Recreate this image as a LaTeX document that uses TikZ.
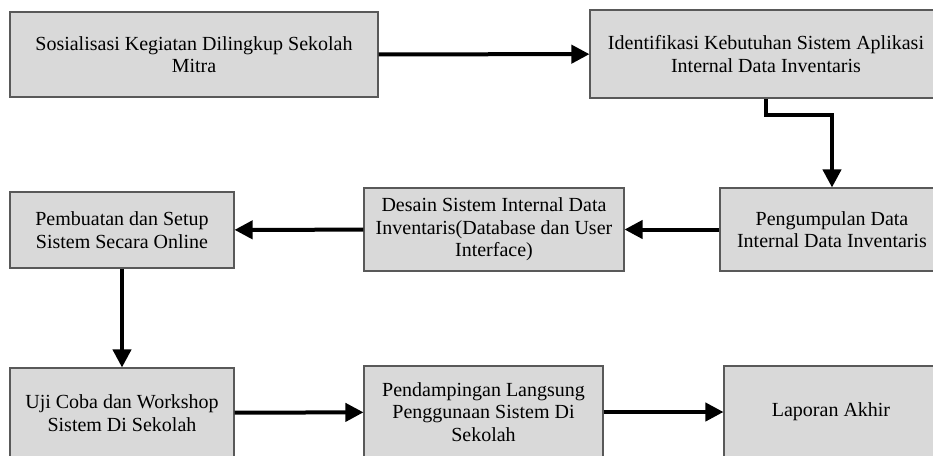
\documentclass[tikz,border=0pt]{standalone}
\usepackage{fontspec}
\setmainfont{Liberation Serif}
\usetikzlibrary{arrows.meta}
\tikzset{%
  kotak/.style = {shape=rectangle, draw=black!65, line width=0.8pt,%
                  fill=black!15, align=center, inner sep=0pt,%
                  font=\fontsize{15}{17}\selectfont},%
  panah/.style = {line width=3pt, -{Triangle[length=13.5pt,width=13.5pt]}}%
}
\begin{document}
\begin{tikzpicture}[x=0.75pt,y=-0.75pt]
		\useasboundingbox (0,0) rectangle (933,455);
		% baris atas
		\node [kotak, minimum width=276pt, minimum height=63.75pt] (sos) at (194,54.5)
			{Sosialisasi Kegiatan Dilingkup Sekolah\\Mitra};
		\node [kotak, minimum width=264pt, minimum height=66pt] (idn) at (766,54)
			{Identifikasi Kebutuhan Sistem Aplikasi\\Internal Data Inventaris};
		% baris tengah
		\node [kotak, minimum width=168pt, minimum height=62.25pt] (kum) at (832,229.5)
			{Pengumpulan Data\\Internal Data Inventaris};
		\node [kotak, minimum width=195pt, minimum height=62.25pt] (des) at (494,229.5)
			{Desain Sistem Internal Data\\Inventaris(Database dan User\\Interface)};
		\node [kotak, minimum width=168pt, minimum height=57pt] (buat) at (122,230)
			{Pembuatan dan Setup\\Sistem Secara Online};
		% baris bawah
		\node [kotak, minimum width=168pt, minimum height=67.5pt] (uji) at (122,413)
			{Uji Coba dan Workshop\\Sistem Di Sekolah};
		\node [kotak, minimum width=179.25pt, minimum height=69pt] (damp) at (483.5,412)
			{Pendampingan Langsung\\Penggunaan Sistem Di\\Sekolah};
		\node [kotak, minimum width=160.5pt, minimum height=69pt] (lap) at (831,412)
			{Laporan Akhir};
		\coordinate (belok) at (766,115);
		\draw [panah] (sos) -- (idn);
		\draw [panah] (idn.south) -- (idn.south |- belok) -| (kum.north);
		\draw [panah] (kum) -- (des);
		\draw [panah] (des) -- (buat);
		\draw [panah] (buat) -- (uji);
		\draw [panah] (uji) -- (damp);
		\draw [panah] (damp) -- (lap);
	\end{tikzpicture}
\end{document}
